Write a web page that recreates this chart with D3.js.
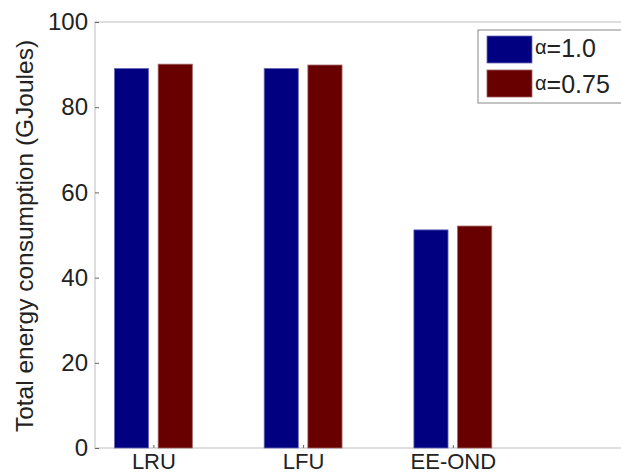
<!DOCTYPE html>
<html><head><meta charset="utf-8">
<script src="https://cdn.jsdelivr.net/npm/d3@7/dist/d3.min.js"></script>
<style>body{margin:0;background:#fff}svg{display:block}text{font-family:"Liberation Sans",Arial,sans-serif;fill:#222}</style>
</head><body><svg id="c" width="621" height="474"></svg>
<script>
const categories = ["LRU", "LFU", "EE-OND"];
const seriesNames = ["α=1.0", "α=0.75"];
const alpha10 = [89.1, 89.1, 51.2];
const alpha075 = [90.1, 89.9, 52.1];
const yTicks = [0, 20, 40, 60, 80, 100];
const colors = ["#000080", "#680000"];

const svg = d3.select("#c");
const L = 95, R = 622, T = 22, B = 448;
const x = d3.scaleLinear().domain([0.61, 4.13]).range([L, R]);
const y = d3.scaleLinear().domain([0, 100]).range([B, T]);
const series = [alpha10, alpha075];
const barW = x(1.228) - x(1);   // ~34px
const offs = [-0.146, 0.146];

// frame
svg.append("rect").attr("x", L).attr("y", T).attr("width", R - L).attr("height", B - T)
  .attr("fill", "none").attr("stroke", "#c8c8c8").attr("stroke-width", 1.2);

// bars
series.forEach((s, si) => {
  svg.append("g").selectAll("rect").data(s).join("rect")
    .attr("x", (d, i) => x(i + 1 + offs[si]) - barW / 2)
    .attr("y", d => y(d))
    .attr("width", barW)
    .attr("height", d => y(0) - y(d))
    .attr("fill", colors[si])
    .attr("stroke", si === 0 ? "#6a6ab8" : "#a06060").attr("stroke-width", 0.8);
});

// y axis
const yAxis = d3.axisLeft(y).tickValues(yTicks).tickSize(-4).tickPadding(7);
const gy = svg.append("g").attr("transform", `translate(${L},0)`).call(yAxis);
gy.select(".domain").remove();
gy.selectAll("line").attr("stroke", "#666");
gy.selectAll("text").style("font-size", "24px").attr("fill", "#222");

// x axis
const xAxis = d3.axisBottom(x).tickValues([1, 2, 3]).tickFormat((d, i) => categories[i]).tickSize(-3).tickPadding(5);
const gx = svg.append("g").attr("transform", `translate(0,${B})`).call(xAxis);
gx.select(".domain").remove();
gx.selectAll("line").attr("stroke", "#666");
gx.selectAll("text").style("font-size", "22px").attr("fill", "#222");

// y label
svg.append("text").attr("transform", `translate(33,236) rotate(-90)`)
  .attr("text-anchor", "middle").style("font-size", "24.5px").text("Total energy consumption (GJoules)");

// legend
const lg = svg.append("g");
lg.append("rect").attr("x", 478).attr("y", 30).attr("width", 160).attr("height", 73)
  .attr("fill", "#fff").attr("stroke", "#888").attr("stroke-width", 1);
seriesNames.forEach((n, i) => {
  lg.append("rect").attr("x", 487).attr("y", 36 + i * 34).attr("width", 45).attr("height", 27)
    .attr("fill", colors[i]).attr("stroke", i === 0 ? "#6a6ab8" : "#a06060").attr("stroke-width", 0.8);
  const t = lg.append("text").attr("x", 535).attr("y", 57 + i * 36).style("font-size", "25px");
  t.append("tspan").style("font-size", "20px").attr("dy", -3).text(n.charAt(0));
  t.append("tspan").attr("dy", 3).text(n.slice(1));
});
</script></body></html>
